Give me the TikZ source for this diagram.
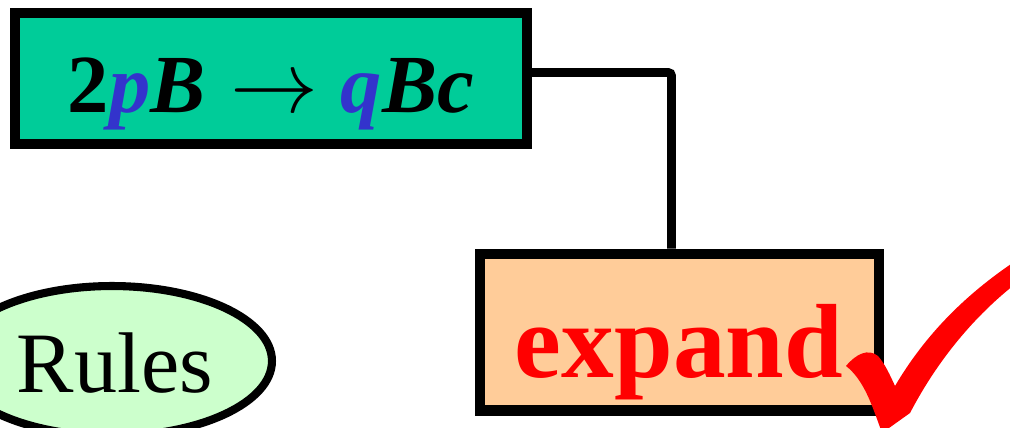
\documentclass[tikz,border=0pt]{standalone}
\usepackage{graphicx}
\usepackage{fontspec}
\setmainfont{Liberation Serif}
\usetikzlibrary{shapes.geometric}
\definecolor{rulegreen}{HTML}{00CC99}
\definecolor{varblue}{HTML}{3333CC}
\definecolor{expandorange}{HTML}{FFCC99}
\definecolor{rulesgreen}{HTML}{CCFFCC}
\begin{document}
\begin{tikzpicture}[x=0.02cm, y=-0.02cm, every node/.style={align=center, inner sep=0pt},
  box/.style={draw, line width=5.7pt}]
\useasboundingbox (0,0) rectangle (1010,427);
\node (rule) [box, fill=rulegreen, minimum width=10.24cm, minimum height=2.62cm] at (271,78.5) {};
\node [anchor=base] at (271,112) {\fontsize{47}{50}\selectfont\bfseries 2\textit{\color{varblue}p}\textit{B}\hspace{0.5cm}\scalebox{5}{\normalsize$\rightarrow$}\hspace{0.45cm}\textit{\color{varblue}q}\textit{Bc}};
\node (expand) [box, fill=expandorange, minimum width=8cm, minimum height=3.14cm] at (679.5,332) {};
\node [anchor=base, text=red] at (679,377) {\fontsize{60}{64}\selectfont\bfseries expand};
\node (rules) [draw, ellipse, line width=4.6pt, fill=rulesgreen, minimum width=6.4cm, minimum height=3cm] at (112,361) {};
\node [anchor=base] at (115,392) {\fontsize{49}{52}\selectfont Rules};

\draw[line width=5.1pt, rounded corners=2pt] ([yshift=0.12cm]rule.east) -| ([xshift=-0.16cm]expand.north);
\fill[red] (846,366) .. controls (856,354) and (868,348) .. (878,356) .. controls (885,364) and (890,375) .. (895,386)
  .. controls (925,335) and (965,295) .. (1014,262) -- (1014,285) .. controls (970,320) and (935,365) .. (910,413)
  -- (882,433) .. controls (872,405) and (864,380) .. (846,366) -- cycle;
\end{tikzpicture}
\end{document}
